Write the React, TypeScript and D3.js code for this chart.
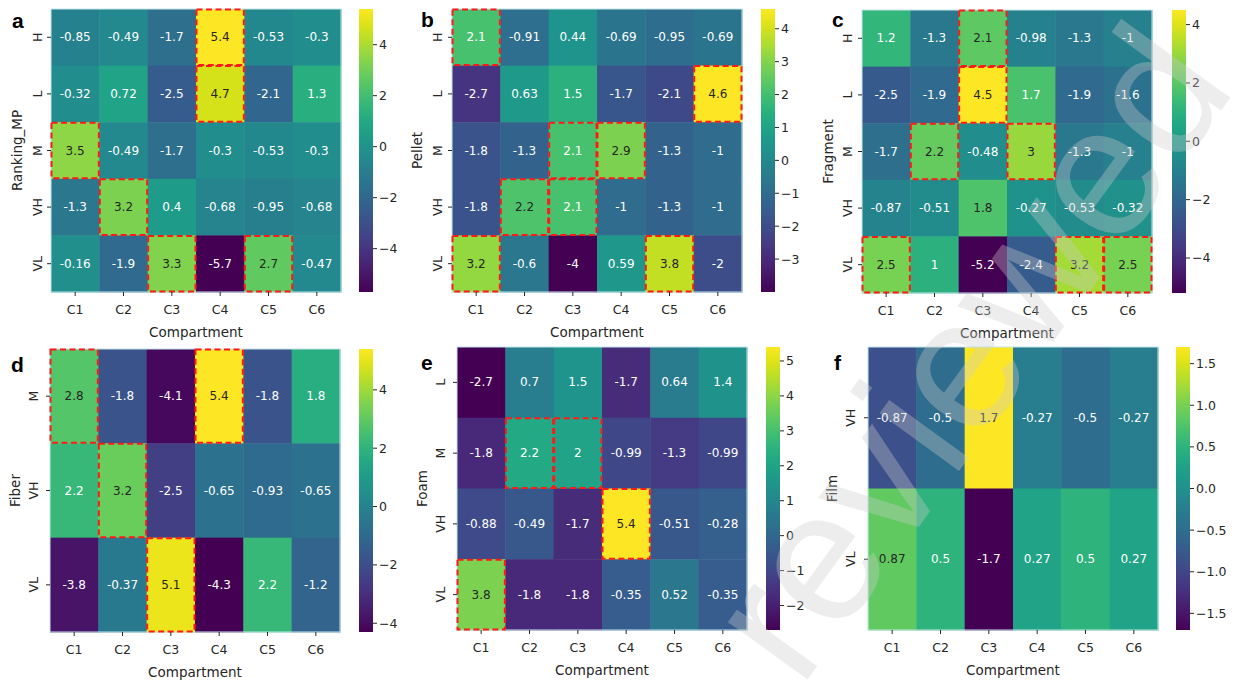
import React from 'react';
import * as d3 from 'd3';

// ---- data ----
const compartments = ['C1', 'C2', 'C3', 'C4', 'C5', 'C6'];

const rankingRows = ['H', 'L', 'M', 'VH', 'VL'];
const rankingValues = [
  [-0.85, -0.49, -1.7, 5.4, -0.53, -0.3],
  [-0.32, 0.72, -2.5, 4.7, -2.1, 1.3],
  [3.5, -0.49, -1.7, -0.3, -0.53, -0.3],
  [-1.3, 3.2, 0.4, -0.68, -0.95, -0.68],
  [-0.16, -1.9, 3.3, -5.7, 2.7, -0.47],
];
const rankingBoxes = [['H', 'C4'], ['L', 'C4'], ['M', 'C1'], ['VH', 'C2'], ['VL', 'C3'], ['VL', 'C5']];
const rankingTicks = [-4, -2, 0, 2, 4];

const pelletRows = ['H', 'L', 'M', 'VH', 'VL'];
const pelletValues = [
  [2.1, -0.91, 0.44, -0.69, -0.95, -0.69],
  [-2.7, 0.63, 1.5, -1.7, -2.1, 4.6],
  [-1.8, -1.3, 2.1, 2.9, -1.3, -1],
  [-1.8, 2.2, 2.1, -1, -1.3, -1],
  [3.2, -0.6, -4, 0.59, 3.8, -2],
];
const pelletBoxes = [['H', 'C1'], ['L', 'C6'], ['M', 'C3'], ['M', 'C4'], ['VH', 'C2'], ['VH', 'C3'], ['VL', 'C1'], ['VL', 'C5']];
const pelletTicks = [-3, -2, -1, 0, 1, 2, 3, 4];

const fragmentRows = ['H', 'L', 'M', 'VH', 'VL'];
const fragmentValues = [
  [1.2, -1.3, 2.1, -0.98, -1.3, -1],
  [-2.5, -1.9, 4.5, 1.7, -1.9, -1.6],
  [-1.7, 2.2, -0.48, 3, -1.3, -1],
  [-0.87, -0.51, 1.8, -0.27, -0.53, -0.32],
  [2.5, 1, -5.2, -2.4, 3.2, 2.5],
];
const fragmentBoxes = [['H', 'C3'], ['L', 'C3'], ['M', 'C2'], ['M', 'C4'], ['VL', 'C1'], ['VL', 'C5'], ['VL', 'C6']];
const fragmentTicks = [-4, -2, 0, 2, 4];

const fiberRows = ['M', 'VH', 'VL'];
const fiberValues = [
  [2.8, -1.8, -4.1, 5.4, -1.8, 1.8],
  [2.2, 3.2, -2.5, -0.65, -0.93, -0.65],
  [-3.8, -0.37, 5.1, -4.3, 2.2, -1.2],
];
const fiberBoxes = [['M', 'C1'], ['M', 'C4'], ['VH', 'C2'], ['VL', 'C3']];
const fiberTicks = [-4, -2, 0, 2, 4];

const foamRows = ['L', 'M', 'VH', 'VL'];
const foamValues = [
  [-2.7, 0.7, 1.5, -1.7, 0.64, 1.4],
  [-1.8, 2.2, 2, -0.99, -1.3, -0.99],
  [-0.88, -0.49, -1.7, 5.4, -0.51, -0.28],
  [3.8, -1.8, -1.8, -0.35, 0.52, -0.35],
];
const foamBoxes = [['M', 'C2'], ['M', 'C3'], ['VH', 'C4'], ['VL', 'C1']];
const foamTicks = [-2, -1, 0, 1, 2, 3, 4, 5];

const filmRows = ['VH', 'VL'];
const filmValues = [
  [-0.87, -0.5, 1.7, -0.27, -0.5, -0.27],
  [0.87, 0.5, -1.7, 0.27, 0.5, 0.27],
];
const filmBoxes: string[][] = [];
const filmTicks = [-1.5, -1, -0.5, 0, 0.5, 1, 1.5];

// panel layout (pixel placement of each subplot)
const panels = [
  { id: 'a', title: 'Ranking_MP', rows: rankingRows, values: rankingValues, boxes: rankingBoxes, ticks: rankingTicks, fmt: 'd', x: 51, y: 9, cbX: 359, letterX: 12, letterY: 28, ylabX: 17, ytickX: 37 },
  { id: 'b', title: 'Pellet', rows: pelletRows, values: pelletValues, boxes: pelletBoxes, ticks: pelletTicks, fmt: 'd', x: 452, y: 9, cbX: 761, letterX: 421, letterY: 27, ylabX: 417, ytickX: 437 },
  { id: 'c', title: 'Fragment', rows: fragmentRows, values: fragmentValues, boxes: fragmentBoxes, ticks: fragmentTicks, fmt: 'd', x: 862, y: 10, cbX: 1172, letterX: 832, letterY: 27, ylabX: 828, ytickX: 847 },
  { id: 'd', title: 'Fiber', rows: fiberRows, values: fiberValues, boxes: fiberBoxes, ticks: fiberTicks, fmt: 'd', x: 50, y: 349, cbX: 359, letterX: 11, letterY: 372, ylabX: 15, ytickX: 33 },
  { id: 'e', title: 'Foam', rows: foamRows, values: foamValues, boxes: foamBoxes, ticks: foamTicks, fmt: 'd', x: 457, y: 347, cbX: 766, letterX: 421, letterY: 370, ylabX: 422, ytickX: 440 },
  { id: 'f', title: 'Film', rows: filmRows, values: filmValues, boxes: filmBoxes, ticks: filmTicks, fmt: '.1f', x: 868, y: 347, cbX: 1176, letterX: 834, letterY: 370, ylabX: 832, ytickX: 850 },
];

const W = 290;
const H = 283;
const CBW = 14;
const font = 'DejaVu Sans, sans-serif';
const ink = '#262626';

// seaborn's rule for picking annotation colour
function luminance(c: string) {
  const rgb = d3.rgb(c);
  const ch = [rgb.r, rgb.g, rgb.b].map((v) => {
    v /= 255;
    return v <= 0.03928 ? v / 12.92 : Math.pow((v + 0.055) / 1.055, 2.4);
  });
  return 0.2126 * ch[0] + 0.7152 * ch[1] + 0.0722 * ch[2];
}

const Heatmap = ({ p }: { p: any }) => {
  const flat: number[] = p.values.flat();
  const [vmin, vmax] = d3.extent(flat) as [number, number];
  const color = d3.scaleSequential(d3.interpolateViridis).domain([vmin, vmax]);
  const x = d3.scaleBand().domain(compartments).range([p.x, p.x + W]);
  const y = d3.scaleBand().domain(p.rows).range([p.y, p.y + H]);
  const cb = d3.scaleLinear().domain([vmin, vmax]).range([p.y + H, p.y]);
  const fmt = d3.format(p.fmt);
  const gradId = `grad-${p.id}`;
  const stops = d3.range(0, 1.0001, 0.05);

  return (
    <g>
      <defs>
        <linearGradient id={gradId} x1="0" y1="1" x2="0" y2="0">
          {stops.map((t) => (
            <stop key={t} offset={t} stopColor={d3.interpolateViridis(t)} />
          ))}
        </linearGradient>
      </defs>

      {/* cells */}
      {p.rows.map((r: string, i: number) =>
        compartments.map((c, j) => {
          const v = p.values[i][j];
          const fill = color(v);
          return (
            <g key={`${r}-${c}`}>
              <rect x={x(c)} y={y(r)} width={x.bandwidth() + 0.5} height={y.bandwidth() + 0.5} fill={fill} />
              <text
                x={(x(c) as number) + x.bandwidth() / 2}
                y={(y(r) as number) + y.bandwidth() / 2}
                textAnchor="middle"
                dominantBaseline="central"
                fontFamily={font}
                fontSize={12}
                fill={luminance(fill) > 0.408 ? ink : '#ffffff'}
              >
                {String(v)}
              </text>
            </g>
          );
        })
      )}
      <rect x={p.x} y={p.y} width={W} height={H} fill="none" stroke="#c4e6ec" strokeWidth={1} />

      {/* highlighted cells */}
      {p.boxes.map(([r, c]: string[]) => (
        <rect
          key={`box-${r}-${c}`}
          x={(x(c) as number) + 0.5}
          y={(y(r) as number) + 0.5}
          width={x.bandwidth() - 1}
          height={y.bandwidth() - 1}
          fill="none"
          stroke="#ff1a1a"
          strokeWidth={2}
          strokeDasharray="6,3.5"
        />
      ))}

      {/* x axis */}
      {compartments.map((c) => {
        const cx = (x(c) as number) + x.bandwidth() / 2;
        return (
          <g key={`xt-${c}`}>
            <line x1={cx} x2={cx} y1={p.y + H} y2={p.y + H + 4} stroke={ink} strokeWidth={1} />
            <text x={cx} y={p.y + H + 17} textAnchor="middle" dominantBaseline="central" fontFamily={font} fontSize={12.5} fill={ink}>
              {c}
            </text>
          </g>
        );
      })}
      <text x={p.x + W / 2} y={p.y + H + 40} textAnchor="middle" dominantBaseline="central" fontFamily={font} fontSize={13.5} fill={ink}>
        Compartment
      </text>

      {/* y axis */}
      {p.rows.map((r: string) => {
        const cy = (y(r) as number) + y.bandwidth() / 2;
        return (
          <g key={`yt-${r}`}>
            <line x1={p.x - 4} x2={p.x} y1={cy} y2={cy} stroke={ink} strokeWidth={1} />
            <text transform={`translate(${p.ytickX},${cy}) rotate(-90)`} textAnchor="middle" dominantBaseline="central" fontFamily={font} fontSize={12.5} fill={ink}>
              {r}
            </text>
          </g>
        );
      })}
      <text transform={`translate(${p.ylabX},${p.y + H / 2}) rotate(-90)`} textAnchor="middle" dominantBaseline="central" fontFamily={font} fontSize={13.5} fill={ink}>
        {p.title}
      </text>

      {/* colorbar */}
      <rect x={p.cbX} y={p.y} width={CBW} height={H} fill={`url(#${gradId})`} />
      {p.ticks.map((t: number) => (
        <g key={`cb-${t}`}>
          <line x1={p.cbX + CBW} x2={p.cbX + CBW + 4} y1={cb(t)} y2={cb(t)} stroke={ink} strokeWidth={1} />
          <text x={p.cbX + CBW + 6} y={cb(t)} dominantBaseline="central" fontFamily={font} fontSize={12.5} fill={ink}>
            {fmt(t)}
          </text>
        </g>
      ))}

      {/* panel letter */}
      <text x={p.letterX} y={p.letterY} fontFamily="Liberation Sans, Arial, sans-serif" fontWeight="bold" fontSize={21} fill="#000">
        {p.id}
      </text>
    </g>
  );
};

export default function App() {
  return (
    <svg width={1238} height={681} style={{ position: 'absolute', left: 0, top: 0, background: '#fff' }}>
      <rect width={1238} height={681} fill="#fff" />
      {panels.map((p) => (
        <Heatmap key={p.id} p={p} />
      ))}
      {/* faint diagonal watermark, cut by the page edge as in the source */}
      <text
        transform="translate(800,690) rotate(-54)"
        fontFamily="Liberation Sans, Arial, sans-serif"
        fontSize={186}
        fill="#cccccc"
        fillOpacity={0.35}
      >
        reviewed
      </text>
    </svg>
  );
}
